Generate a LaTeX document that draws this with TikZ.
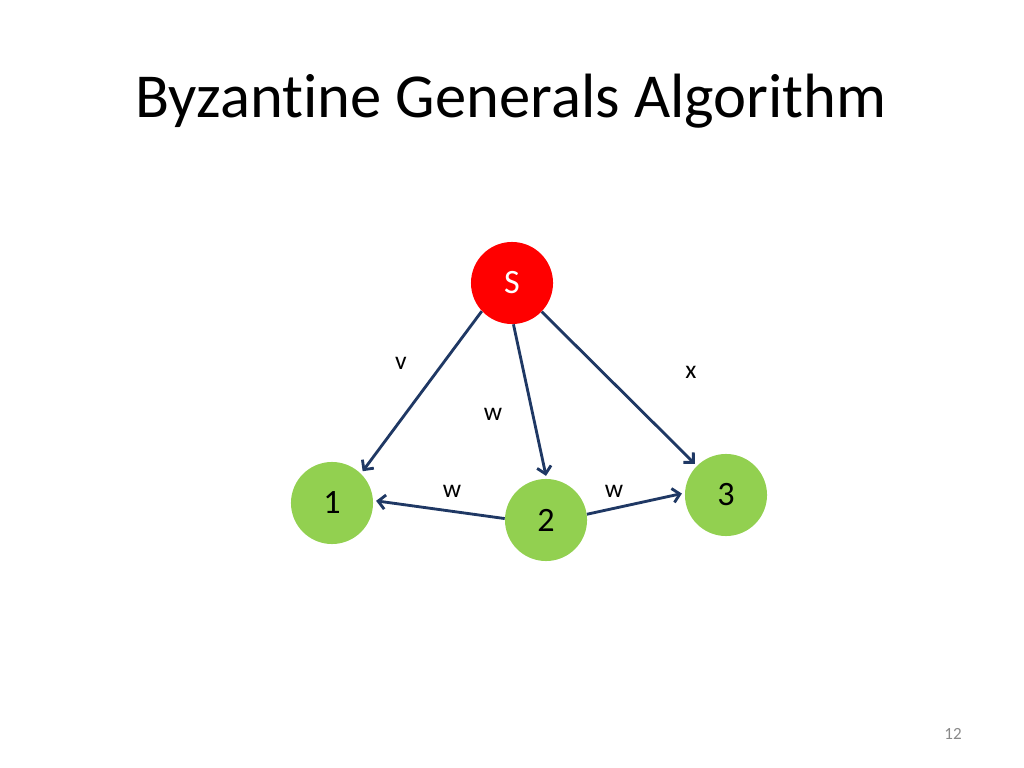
\documentclass[tikz,border=0pt]{standalone}
\usepackage{fontspec}
\setmainfont[Ligatures=NoCommon]{Carlito}
\usetikzlibrary{arrows.meta}
\definecolor{nodered}{RGB}{255,0,0}
\definecolor{nodegreen}{RGB}{146,208,80}
\definecolor{arrowblue}{RGB}{31,56,100}
\definecolor{pagegray}{RGB}{137,137,137}
\tikzset{
  gen/.style={circle,fill=nodegreen,minimum size=57.7pt,inner sep=0pt,font=\fontsize{24}{28}\selectfont},
  src/.style={circle,fill=nodered,text=white,minimum size=57.7pt,inner sep=0pt,font=\fontsize{24}{28}\selectfont},
  msg/.style={draw=arrowblue,line width=2pt,-{Straight Barb[length=5pt,width=10pt,line width=2pt]}},
  lbl/.style={font=\fontsize{18}{22}\selectfont,inner sep=0pt}
}
\begin{document}
\begin{tikzpicture}[x=0.703125pt,y=-0.703125pt]
\useasboundingbox (0,0) rectangle (1024,768);
\node[font=\fontsize{44}{52}\selectfont] (title) at (511,101) {Byzantine Generals Algorithm};
\node[src] (S) at (512,283) {S};
\node[gen] (n1) at (332,503) {1};
\node[gen] (n2) at (546,520) {2};
\node[gen] (n3) at (726,495) {3};
\draw[msg] (S.223) -- ([shift={(46:2pt)}]n1.46);
\draw[msg] (S.272) -- ([yshift=2pt]n2.90);
\draw[msg] (S.316) -- ([shift={(135:2pt)}]n3.135);
\draw[msg] (n2.178) -- ([xshift=2pt]n1.3);
\draw[msg] (n2.8) -- ([xshift=-2pt]n3.178);
\node[lbl] (lv) at (401,363) {v};
\node[lbl] (lw1) at (493,414) {w};
\node[lbl] (lx) at (691,372) {x};
\node[lbl] (lw2) at (452,491) {w};
\node[lbl] (lw3) at (614,491) {w};
\node[font=\fontsize{12}{14}\selectfont,text=pagegray] (page) at (953,734) {12};
\end{tikzpicture}
\end{document}
